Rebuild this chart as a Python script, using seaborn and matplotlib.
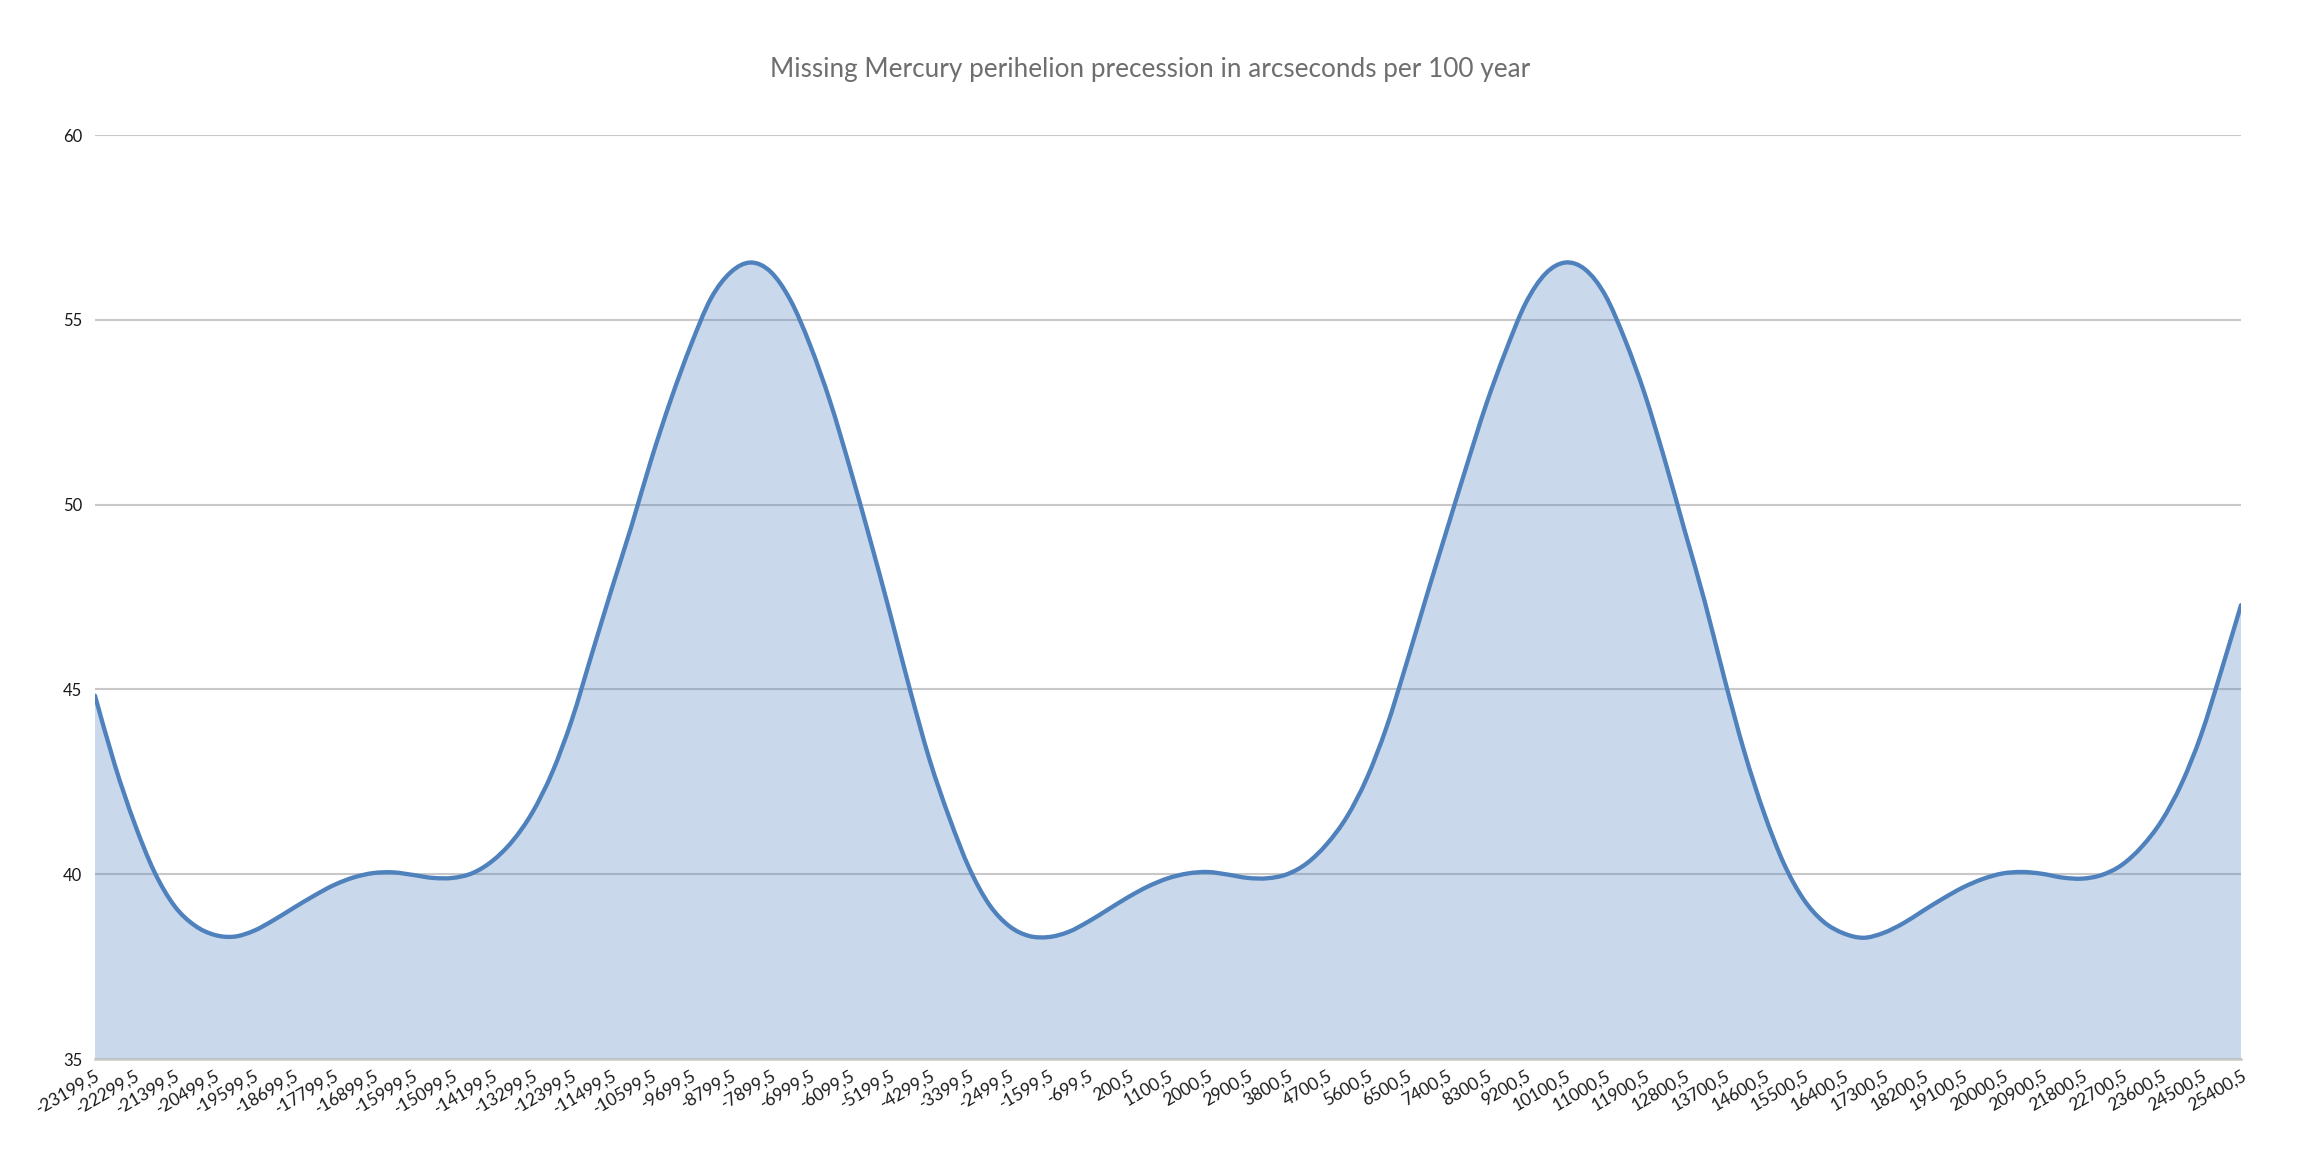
import numpy as np
import pandas as pd
import seaborn as sns
import matplotlib.pyplot as plt
from matplotlib.path import Path
from matplotlib.patches import PathPatch

# years (every 450 years, tick labels every 900 years)
years = np.arange(-23199.5, 25400.6, 450)

# missing perihelion precession, arcseconds per 100 year
precession = [
    44.83, 42.95, 41.36, 40.05, 39.14, 38.62, 38.36, 38.31, 38.47, 38.76,
    39.09, 39.41, 39.70, 39.91, 40.03, 40.05, 39.98, 39.90, 39.90, 40.03,
    40.36, 40.89, 41.66, 42.74, 44.18, 45.95, 47.71, 49.42, 51.23, 52.87,
    54.33, 55.58, 56.29, 56.55, 56.30, 55.53, 54.30, 52.78, 50.98, 49.07,
    47.08, 45.02, 43.10, 41.52, 40.16, 39.18, 38.60, 38.33, 38.30, 38.44,
    38.72, 39.05, 39.38, 39.67, 39.89, 40.02, 40.06, 39.99, 39.90, 39.89,
    40.00, 40.30, 40.82, 41.55, 42.59, 43.98, 45.70, 47.50, 49.26, 51.00,
    52.69, 54.16, 55.45, 56.25, 56.55, 56.36, 55.67, 54.46, 52.98, 51.21,
    49.30, 47.40, 45.30, 43.32, 41.65, 40.28, 39.31, 38.71, 38.40, 38.28,
    38.41, 38.67, 39.01, 39.34, 39.64, 39.87, 40.02, 40.06, 40.01, 39.91,
    39.88, 39.98, 40.25, 40.74, 41.44, 42.44, 43.78, 45.49, 47.28,
]

tick_years = years[::2]
tick_labels = [f'{y:.1f}'.replace('.', ',') for y in tick_years]
y_ticks = [35, 40, 45, 50, 55, 60]

title = 'Missing Mercury perihelion precession in arcseconds per 100 year'
line_color = '#4F81BD'

df = pd.DataFrame({'year': years, 'value': precession})


def smooth_path(x, y, base=None):
    # Excel style smoothed line: Bezier segments through the data points
    pts = np.column_stack([x, y])
    ext = np.vstack([pts[0], pts, pts[-1]])
    verts = [pts[0]]
    codes = [Path.MOVETO]
    for i in range(len(pts) - 1):
        p0, p1, p2, p3 = ext[i], ext[i + 1], ext[i + 2], ext[i + 3]
        verts += [p1 + (p2 - p0) / 6, p2 - (p3 - p1) / 6, p2]
        codes += [Path.CURVE4] * 3
    if base is not None:
        verts += [(x[-1], base), (x[0], base), (x[0], base)]
        codes += [Path.LINETO, Path.LINETO, Path.CLOSEPOLY]
    return Path(verts, codes)


sns.set_theme(style='white')
plt.rcParams['font.family'] = ['Lato', 'DejaVu Sans']

fig = plt.figure(figsize=(23, 11.66), dpi=100)
ax = fig.add_axes([95 / 2300, 1 - 1059 / 1166, (2241 - 95) / 2300, (1059 - 135) / 1166])

# seaborn line (hidden) sets up the scales, smoothed path drawn on top
sns.lineplot(data=df, x='year', y='value', color=line_color, linewidth=0, ax=ax)

ax.add_patch(PathPatch(smooth_path(df['year'].values, df['value'].values, base=35),
                       facecolor=line_color, alpha=0.3, edgecolor='none', zorder=2))
ax.add_patch(PathPatch(smooth_path(df['year'].values, df['value'].values),
                       facecolor='none', edgecolor=line_color, linewidth=3.1,
                       capstyle='round', joinstyle='round', zorder=3))

_ = ax.set(
    xlim=(years[0], years[-1])
    , ylim=(35, 60)
    , xlabel=''
    , ylabel=''
)

ax.set_yticks(y_ticks)
ax.set_yticklabels([str(v) for v in y_ticks], fontsize=12, color='#1a1a1a')
ax.set_xticks(tick_years)
ax.set_xticklabels(tick_labels, rotation=30, ha='right', rotation_mode='anchor',
                   fontsize=12.5, color='#1a1a1a')
ax.tick_params(axis='both', length=0)
ax.tick_params(axis='y', pad=9)
ax.tick_params(axis='x', pad=6)

# horizontal gridlines only
ax.yaxis.grid(True, color='#C8C8C8', linewidth=1.5)
ax.xaxis.grid(False)
ax.set_axisbelow(True)

sns.despine(ax=ax, left=True, right=True, top=True, bottom=False)
ax.spines['bottom'].set_color('#C8C8C8')
ax.spines['bottom'].set_linewidth(1.8)

fig.text(0.5, 1 - 70 / 1166, title, ha='center', va='center', fontsize=18.8, color='#6E6E6E')

fig.savefig('out.png', dpi=100)
